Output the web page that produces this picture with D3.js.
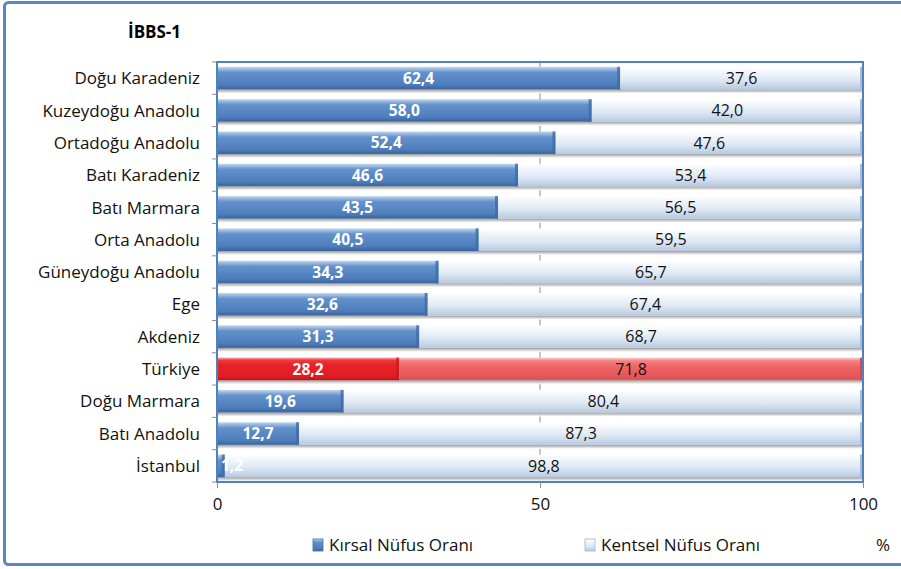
<!DOCTYPE html>
<html>
<head>
<meta charset="utf-8">
<script src="https://cdn.jsdelivr.net/npm/d3@7"></script>
<style>
  body { margin: 0; background: #fff; }
  text { font-family: "Open Sans", sans-serif; }
</style>
</head>
<body>
<div id="chart"><svg width="901" height="569"></svg></div>
<script>
const regions = [
  "Doğu Karadeniz",
  "Kuzeydoğu Anadolu",
  "Ortadoğu Anadolu",
  "Batı Karadeniz",
  "Batı Marmara",
  "Orta Anadolu",
  "Güneydoğu Anadolu",
  "Ege",
  "Akdeniz",
  "Türkiye",
  "Doğu Marmara",
  "Batı Anadolu",
  "İstanbul",
];
const kirsal = [62.4, 58.0, 52.4, 46.6, 43.5, 40.5, 34.3, 32.6, 31.3, 28.2, 19.6, 12.7, 1.2];
const kentsel = [37.6, 42.0, 47.6, 53.4, 56.5, 59.5, 65.7, 67.4, 68.7, 71.8, 80.4, 87.3, 98.8];
const xTicks = [0, 50, 100];
const seriesNames = ["Kırsal Nüfus Oranı", "Kentsel Nüfus Oranı"];
const highlight = "Türkiye";

const svg = d3.select("#chart").select("svg");
const margin = { left: 217, right: 38, top: 62, bottom: 87 };
const width = 901;
const height = 569;

const fmt = (v) => v.toFixed(1).replace(".", ",");

// gradients to fake the excel bevel look
const defs = svg.append("defs");
function grad(id, stops) {
  const g = defs
    .append("linearGradient")
    .attr("id", id)
    .attr("x1", 0)
    .attr("y1", 0)
    .attr("x2", 0)
    .attr("y2", 1);
  stops.forEach(([o, c]) => g.append("stop").attr("offset", o).attr("stop-color", c));
}
grad("gBlue", [[0, "#c4d8f0"], [0.12, "#93b4de"], [0.25, "#6391cb"], [0.8, "#4d7dbb"], [1, "#3a6398"]]);
grad("gLight", [[0, "#ffffff"], [0.2, "#f3f7fc"], [0.6, "#dce7f4"], [1, "#b7c9e0"]]);
grad("gRed", [[0, "#f8a5a5"], [0.12, "#ef3a3a"], [0.3, "#e8222a"], [0.85, "#e11c23"], [1, "#b71419"]]);
grad("gPink", [[0, "#fbd0d0"], [0.15, "#f48080"], [0.4, "#f06467"], [1, "#dc5155"]]);
grad("gShadow", [[0, "#9a9a9a"], [0.5, "#cfcfcf"], [1, "#ffffff"]]);

// outer frame
svg
  .append("rect")
  .attr("x", 4.5)
  .attr("y", 2.5)
  .attr("width", 920)
  .attr("height", 562)
  .attr("rx", 4)
  .attr("fill", "#fff")
  .attr("stroke", "#5b86c0")
  .attr("stroke-width", 3);

svg
  .append("text")
  .attr("x", 128)
  .attr("y", 38)
  .attr("font-size", 17)
  .attr("font-weight", "bold")
  .attr("fill", "#000")
  .text("İBBS-1");

const xScale = d3.scaleLinear().domain([0, 100]).range([margin.left, width - margin.right]);
const yScale = d3
  .scaleBand()
  .domain(regions)
  .range([margin.top, height - margin.bottom])
  .paddingInner(0.3)
  .paddingOuter(0.15);

const plotBottom = height - margin.bottom;

// gridline at 50
svg
  .append("g")
  .selectAll("line")
  .data(xTicks.slice(1, -1))
  .join("line")
  .attr("x1", (d) => xScale(d))
  .attr("x2", (d) => xScale(d))
  .attr("y1", margin.top)
  .attr("y2", plotBottom)
  .attr("stroke", "#8c8c8c")
  .attr("stroke-width", 1);

const data = regions.map((r, i) => ({ region: r, k: kirsal[i], u: kentsel[i] }));

const rows = svg
  .append("g")
  .selectAll("g")
  .data(data)
  .join("g")
  .attr("transform", (d) => `translate(0, ${yScale(d.region)})`);

const bh = yScale.bandwidth();

rows
  .append("rect")
  .attr("x", xScale(0))
  .attr("y", bh)
  .attr("width", xScale(100) - xScale(0))
  .attr("height", 4)
  .attr("fill", "url(#gShadow)");

rows
  .append("rect")
  .attr("x", xScale(0))
  .attr("y", 0)
  .attr("width", (d) => xScale(d.k) - xScale(0))
  .attr("height", bh)
  .attr("fill", (d) => (d.region === highlight ? "url(#gRed)" : "url(#gBlue)"));

rows
  .append("rect")
  .attr("x", (d) => xScale(d.k))
  .attr("y", 0)
  .attr("width", (d) => xScale(d.k + d.u) - xScale(d.k))
  .attr("height", bh)
  .attr("fill", (d) => (d.region === highlight ? "url(#gPink)" : "url(#gLight)"));

// bevel edge at end of each segment
rows
  .append("rect")
  .attr("x", (d) => xScale(d.k) - 3)
  .attr("y", 0)
  .attr("width", 3)
  .attr("height", bh)
  .attr("fill", (d) => (d.region === highlight ? "#c8191f" : "#3f6ca6"))
  .attr("opacity", 0.8);

rows
  .append("rect")
  .attr("x", xScale(100) - 3)
  .attr("y", 0)
  .attr("width", 3)
  .attr("height", bh)
  .attr("fill", (d) => (d.region === highlight ? "#d04a4e" : "#a9bcd6"));

rows
  .append("text")
  .attr("x", (d) => {
    const w = xScale(d.k) - xScale(0);
    return w < 30 ? xScale(0) + 4 : xScale(d.k / 2);
  })
  .attr("text-anchor", (d) => (xScale(d.k) - xScale(0) < 30 ? "start" : "middle"))
  .attr("y", bh / 2)
  .attr("dy", "0.36em")
  .attr("font-size", 15.5)
  .attr("font-weight", "bold")
  .attr("fill", "#fff")
  .text((d) => fmt(d.k));

rows
  .append("text")
  .attr("x", (d) => xScale(d.k + d.u / 2))
  .attr("text-anchor", "middle")
  .attr("y", bh / 2)
  .attr("dy", "0.36em")
  .attr("font-size", 16)
  .attr("fill", "#111")
  .text((d) => fmt(d.u));

// plot border
svg
  .append("rect")
  .attr("x", margin.left)
  .attr("y", margin.top)
  .attr("width", xScale(100) - xScale(0))
  .attr("height", plotBottom - margin.top)
  .attr("fill", "none")
  .attr("stroke", "#4f81bd")
  .attr("stroke-width", 2);

// y axis ticks at band boundaries
const boundaries = d3.range(regions.length + 1).map((i) => margin.top + i * ((plotBottom - margin.top) / regions.length));
svg
  .append("g")
  .selectAll("line")
  .data(boundaries)
  .join("line")
  .attr("x1", margin.left - 5)
  .attr("x2", margin.left)
  .attr("y1", (d) => d)
  .attr("y2", (d) => d)
  .attr("stroke", "#8c8c8c");

svg
  .append("g")
  .selectAll("text")
  .data(regions)
  .join("text")
  .attr("x", margin.left - 17)
  .attr("y", (d) => yScale(d) + bh / 2)
  .attr("dy", "0.36em")
  .attr("text-anchor", "end")
  .attr("font-size", 17)
  .attr("fill", "#111")
  .text((d) => d);

// x axis
const xAxis = svg
  .append("g")
  .attr("transform", `translate(0, ${plotBottom})`)
  .call(d3.axisBottom(xScale).tickValues(xTicks).tickSize(6).tickPadding(10));
xAxis.select(".domain").remove();
xAxis.selectAll("line").attr("stroke", "#8c8c8c");
xAxis.selectAll("text").attr("font-size", 17).attr("fill", "#111").attr("font-family", "Open Sans, sans-serif");

// legend
const legendX = [313, 585];
const legend = svg
  .append("g")
  .selectAll("g")
  .data(seriesNames)
  .join("g")
  .attr("transform", (d, i) => `translate(${legendX[i]}, 545)`);
legend
  .append("rect")
  .attr("x", 0)
  .attr("y", -6)
  .attr("width", 10)
  .attr("height", 12)
  .attr("fill", (d, i) => (i === 0 ? "url(#gBlue)" : "url(#gLight)"))
  .attr("stroke", (d, i) => (i === 0 ? "#3f6ca6" : "#9fb3cf"))
  .attr("stroke-width", 0.8);
legend
  .append("text")
  .attr("x", 16)
  .attr("y", 0)
  .attr("dy", "0.36em")
  .attr("font-size", 17)
  .attr("fill", "#111")
  .text((d) => d);

svg
  .append("text")
  .attr("x", 883)
  .attr("y", 545)
  .attr("dy", "0.36em")
  .attr("text-anchor", "middle")
  .attr("font-size", 17)
  .attr("fill", "#111")
  .text("%");
</script>
</body>
</html>
